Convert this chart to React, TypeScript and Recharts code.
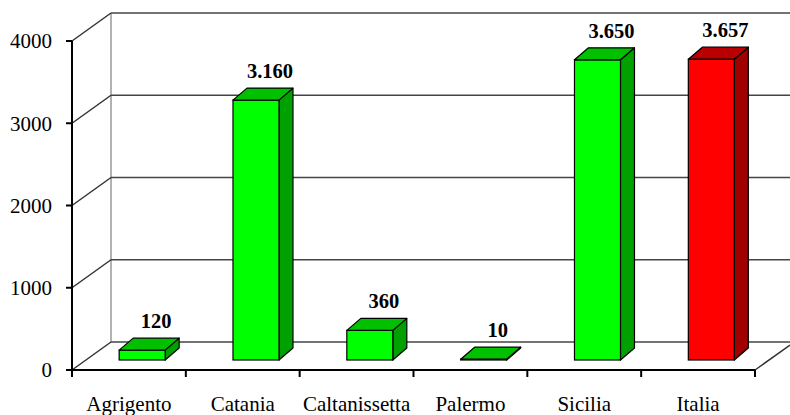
import { BarChart, Bar, XAxis, YAxis, CartesianGrid, LabelList } from "recharts";

const categories = ["Agrigento", "Catania", "Caltanissetta", "Palermo", "Sicilia", "Italia"];
const values = [120, 3160, 360, 10, 3650, 3657];
const yTicks = [0, 1000, 2000, 3000, 4000];
const highlighted = "Italia";

const data = categories.map((name, i) => ({ name, value: values[i] }));

const W = 790;
const H = 415;
const FONT = '"Liberation Serif", "Times New Roman", serif';

// depth offsets for the fake 3D look
const WALL_DX = 39;
const WALL_DY = -28;
const FACE_DX = 13;
const FACE_DY = -10;
const DEPTH_DX = 14;
const DEPTH_DY = -12;

const PLOT_TOP = 41;
const PLOT_BOTTOM = 370;

const fmt = (n: number) => String(n).replace(/\B(?=(\d{3})+(?!\d))/g, ".");

function GridLine(props: any) {
  const { x1, y1, x2, index } = props;
  const bx = x1 + WALL_DX;
  const by = y1 + WALL_DY;
  const isFloor = Math.abs(y1 - PLOT_BOTTOM) < 1;
  return (
    <g key={`g-${index}`}>
      {index === 0 && (
        <line x1={bx} y1={PLOT_TOP + WALL_DY} x2={bx} y2={PLOT_BOTTOM + WALL_DY} stroke="#999" strokeWidth={1.5} />
      )}
      <line x1={x1} y1={y1} x2={bx} y2={by} stroke="#333" strokeWidth={1.5} />
      <line x1={bx} y1={by} x2={W} y2={by} stroke="#444" strokeWidth={1.5} />
      {isFloor && (
        <line x1={x2} y1={y1} x2={x2 + 35} y2={y1 - 25} stroke="#333" strokeWidth={1.5} />
      )}
    </g>
  );
}

function Box3D(props: any) {
  const { x, y, width, height, payload } = props;
  const red = payload.name === highlighted;
  const front = red ? "#ff0000" : "#00ff00";
  const top = red ? "#b80000" : "#00c000";
  const side = red ? "#a00000" : "#00a000";
  const fx = x + FACE_DX;
  const fy = y + FACE_DY;
  const h = Math.max(height, 0.5);
  const topPts = `${fx},${fy} ${fx + width},${fy} ${fx + width + DEPTH_DX},${fy + DEPTH_DY} ${fx + DEPTH_DX},${fy + DEPTH_DY}`;
  const sidePts = `${fx + width},${fy} ${fx + width + DEPTH_DX},${fy + DEPTH_DY} ${fx + width + DEPTH_DX},${fy + h + DEPTH_DY} ${fx + width},${fy + h}`;
  return (
    <g>
      <polygon points={sidePts} fill={side} stroke="#000" strokeWidth={1.2} strokeLinejoin="round" />
      <rect x={fx} y={fy} width={width} height={h} fill={front} stroke="#000" strokeWidth={1.2} />
      <polygon points={topPts} fill={top} stroke="#000" strokeWidth={1.2} strokeLinejoin="round" />
    </g>
  );
}

function ValueLabel(props: any) {
  const { x, y, width, value } = props;
  const cx = x + FACE_DX + DEPTH_DX + width / 2;
  const cy = y + FACE_DY + DEPTH_DY - 10;
  return (
    <text x={cx} y={cy} textAnchor="middle" fontFamily={FONT} fontWeight="bold" fontSize={20.5} fill="#000">
      {fmt(value)}
    </text>
  );
}

function CategoryTick(props: any) {
  const { x, y, payload } = props;
  const off = payload.offset ?? 0;
  return (
    <g>
      {payload.index === 0 && <line x1={x - off} y1={y} x2={x - off} y2={y + 7} stroke="#000" strokeWidth={2} />}
      <line x1={x + off} y1={y} x2={x + off} y2={y + 7} stroke="#000" strokeWidth={2} />
      <text x={x} y={y + 41} textAnchor="middle" fontFamily={FONT} fontSize={21} fill="#000">
        {payload.value}
      </text>
    </g>
  );
}

export default function App() {
  return (
    <div style={{ position: "absolute", left: 0, top: 0, background: "#fff" }}>
      <BarChart
        width={W}
        height={H}
        data={data}
        margin={{ top: PLOT_TOP, right: 35, bottom: 5, left: 12 }}
        barCategoryGap="30%"
      >
        <CartesianGrid vertical={false} horizontal={GridLine} />
        <XAxis
          dataKey="name"
          height={40}
          tickLine={false}
          tickSize={0}
          tickMargin={0}
          axisLine={{ stroke: "#000", strokeWidth: 2 }}
          tick={CategoryTick}
          interval={0}
        />
        <YAxis
          width={60}
          domain={[0, 4000]}
          ticks={yTicks}
          tickSize={6}
          tickMargin={14}
          axisLine={{ stroke: "#000", strokeWidth: 2 }}
          tickLine={{ stroke: "#000", strokeWidth: 2 }}
          tick={{ fontSize: 21, fill: "#000", fontFamily: FONT }}
        />
        <Bar dataKey="value" shape={Box3D} isAnimationActive={false}>
          <LabelList dataKey="value" content={ValueLabel} />
        </Bar>
      </BarChart>
    </div>
  );
}
